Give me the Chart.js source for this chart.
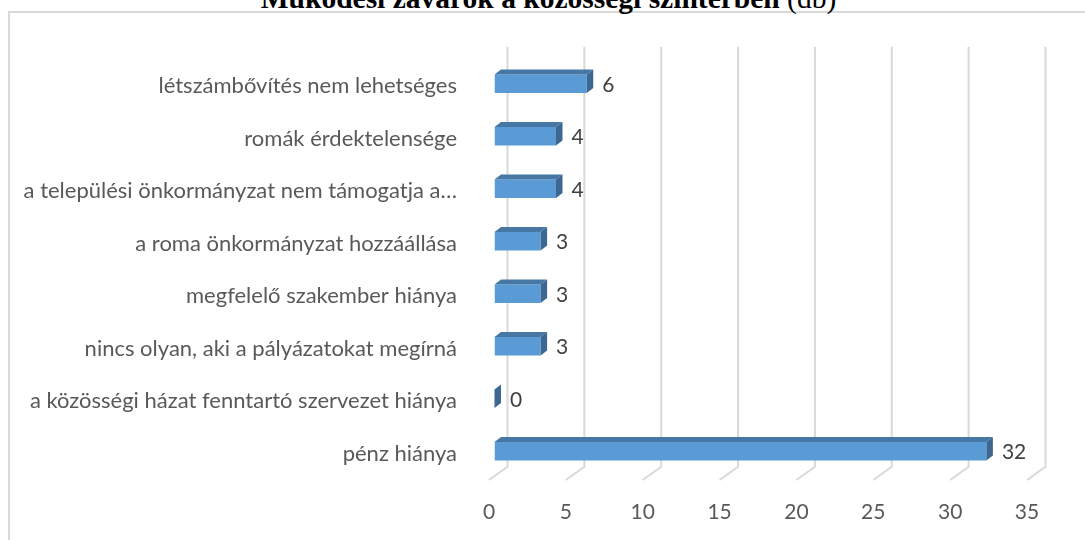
<!DOCTYPE html>
<html>
<head>
<meta charset="utf-8">
<script src="https://cdn.jsdelivr.net/npm/chart.js@4"></script>
<style>
    body { margin: 0; background: #fff; overflow: hidden; }
    #wrap { position: relative; width: 1085px; height: 540px; overflow: hidden; }
    #frame { position: absolute; left: 8px; top: 11px; width: 1200px; height: 700px; border: 2px solid #d9d9d9; box-sizing: border-box; }
    #title { position: absolute; left: 6px; width: 1085px; top: -16px; text-align: center; font-family: "Liberation Serif", "Times New Roman", serif; font-size: 29.5px; line-height: 29px; color: #000; white-space: nowrap; }
    #title b { font-weight: bold; }
    canvas { position: absolute; left: 0; top: 0; }
</style>
</head>
<body>
<div id="wrap">
    <div id="frame"></div>
    <div id="title"><b>Működési zavarok a közösségi színtérben</b> (db)</div>
    <canvas id="chart" width="1085" height="540"></canvas>
</div>
<script>
const categories = [
    'létszámbővítés nem lehetséges',
    'romák érdektelensége',
    'a települési önkormányzat nem támogatja a…',
    'a roma önkormányzat hozzáállása',
    'megfelelő szakember hiánya',
    'nincs olyan, aki a pályázatokat megírná',
    'a közösségi házat fenntartó szervezet hiánya',
    'pénz hiánya'
];
const values = [6, 4, 4, 3, 3, 3, 0, 32];
const xTicks = [0, 5, 10, 15, 20, 25, 30, 35];

const wall = { dx: 18.5, dy: -13.3 };
const depth = { dx: 6.5, dy: -5 };
const shift = { dx: 5.5, dy: -2.5 };
const FONT = 'Lato, "Open Sans", sans-serif';

const threeD = {
    id: 'threeD',
    beforeDatasetsDraw(chart) {
        const ctx = chart.ctx;
        const area = chart.chartArea;
        const xs = chart.scales.x;
        ctx.save();
        ctx.strokeStyle = '#d9d9d9';
        ctx.lineWidth = 2;
        xTicks.forEach(v => {
            const xf = xs.getPixelForValue(v);
            ctx.beginPath();
            ctx.moveTo(xf + wall.dx, area.top + wall.dy);
            ctx.lineTo(xf + wall.dx, area.bottom + wall.dy);
            ctx.lineTo(xf, area.bottom);
            ctx.stroke();
        });
        ctx.restore();
        ctx.save();
        ctx.translate(shift.dx, shift.dy);
    },
    afterDatasetsDraw(chart) {
        const ctx = chart.ctx;
        const meta = chart.getDatasetMeta(0);
        meta.data.forEach((bar, i) => {
            const top = bar.y - bar.height / 2;
            const bottom = bar.y + bar.height / 2;
            // top face
            ctx.fillStyle = '#4677a5';
            ctx.beginPath();
            ctx.moveTo(bar.base, top);
            ctx.lineTo(bar.x, top);
            ctx.lineTo(bar.x + depth.dx, top + depth.dy);
            ctx.lineTo(bar.base + depth.dx, top + depth.dy);
            ctx.closePath();
            ctx.fill();
            // side face
            ctx.fillStyle = '#3c6791';
            ctx.beginPath();
            ctx.moveTo(bar.x, top);
            ctx.lineTo(bar.x + depth.dx, top + depth.dy);
            ctx.lineTo(bar.x + depth.dx, bottom + depth.dy);
            ctx.lineTo(bar.x, bottom);
            ctx.closePath();
            ctx.fill();
            // value label
            ctx.fillStyle = '#404040';
            ctx.font = '21px ' + FONT;
            ctx.textAlign = 'left';
            ctx.textBaseline = 'middle';
            ctx.fillText(String(values[i]), bar.x + depth.dx + 9, bar.y + 1);
        });
        ctx.restore();
    }
};

new Chart(document.getElementById('chart'), {
    type: 'bar',
    data: {
        labels: categories,
        datasets: [{
            data: values,
            backgroundColor: '#5b9bd5',
            borderWidth: 0,
            barPercentage: 0.35,
            categoryPercentage: 1
        }]
    },
    options: {
        indexAxis: 'y',
        responsive: false,
        animation: false,
        layout: { padding: { top: 60, right: 58, left: 0, bottom: 0 } },
        plugins: { legend: { display: false }, tooltip: { enabled: false } },
        scales: {
            x: {
                min: 0,
                max: 35,
                afterFit: s => { s.height = 60; },
                afterBuildTicks: s => { s.ticks = xTicks.map(v => ({ value: v })); },
                grid: { display: false },
                border: { display: false },
                ticks: {
                    color: '#595959',
                    padding: 12,
                    font: { family: FONT, size: 21 }
                }
            },
            y: {
                afterFit: s => { s.width = 489; },
                grid: { display: false },
                border: { display: false },
                ticks: {
                    color: '#595959',
                    padding: 24,
                    autoSkip: false,
                    font: { family: FONT, size: 22 }
                }
            }
        }
    },
    plugins: [threeD]
});
</script>
</body>
</html>
